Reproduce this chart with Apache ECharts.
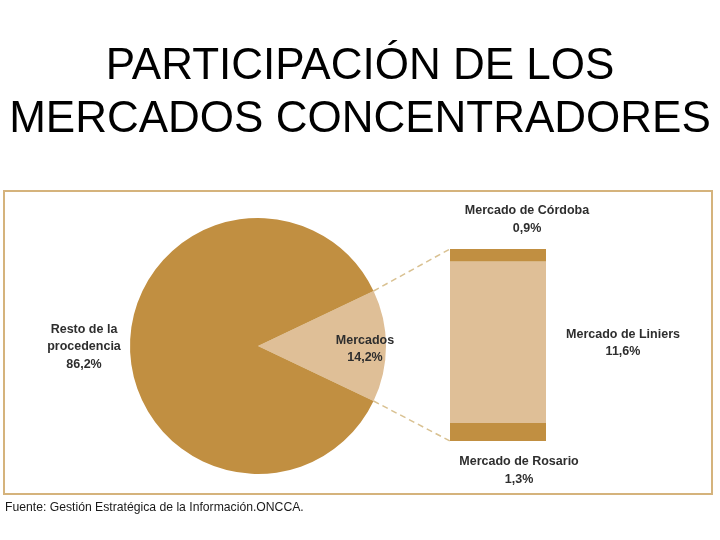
<!DOCTYPE html>
<html>
<head>
<meta charset="utf-8">
<script src="https://cdn.jsdelivr.net/npm/echarts@6/dist/echarts.min.js"></script>
<style>
  html, body { margin: 0; padding: 0; background: #fff; }
  #main { width: 720px; height: 540px; }
</style>
</head>
<body>
<div id="main"></div>
<script>
// datos
const pieNames = ['Mercados', 'Resto de la\nprocedencia'];
const pieValues = [14.2, 86.2];
const barNames = ['Mercado de Rosario', 'Mercado de Liniers', 'Mercado de Córdoba'];
const barValues = [1.3, 11.6, 0.9];

const dark = '#c18f41';
const light = '#dfbf97';
const labelColor = '#2e2e2e';

// layout
const cx = 258, cy = 346, r = 128;
const barLeft = 450, barTop = 249, barW = 96, barH = 192;

const pieTotal = pieValues.reduce((a, b) => a + b, 0);
const halfAngle = pieValues[0] / pieTotal * 180; // mitad del sector "Mercados"
const rad = halfAngle * Math.PI / 180;

function pct(v) {
  return v.toFixed(1).replace('.', ',') + '%';
}

const chart = echarts.init(document.getElementById('main'));

const labelFont = {
  color: labelColor,
  fontFamily: 'Liberation Sans, Arial, sans-serif',
  fontWeight: 'bold',
  fontSize: 12.5,
  lineHeight: 17.5,
  align: 'center'
};

const barSeries = barNames.map((name, i) => {
  let label;
  if (i === 0) {
    label = Object.assign({ show: true, position: 'bottom', distance: 12, offset: [21, 0] }, labelFont);
  } else if (i === 1) {
    label = Object.assign({ show: true, position: 'inside', offset: [125, 1] }, labelFont);
  } else {
    label = Object.assign({ show: true, position: 'top', distance: 12, offset: [29, 0] }, labelFont);
  }
  return {
    name: name,
    type: 'bar',
    stack: 'm',
    barWidth: '100%',
    data: [barValues[i]],
    itemStyle: { color: i === 1 ? light : dark },
    label: Object.assign(label, {
      formatter: function (p) { return p.seriesName + '\n' + pct(p.value); }
    }),
    silent: true
  };
});

const option = {
  animation: false,
  title: [
    {
      text: 'PARTICIPACIÓN DE LOS\nMERCADOS CONCENTRADORES',
      left: 'center',
      top: 35,
      textStyle: {
        fontFamily: 'Liberation Sans, Arial, sans-serif',
        fontWeight: 'normal',
        fontSize: 44,
        lineHeight: 53,
        color: '#000'
      }
    },
    {
      text: 'Fuente: Gestión Estratégica de la Información.ONCCA.',
      left: 5,
      top: 502,
      padding: 0,
      textStyle: {
        fontFamily: 'Liberation Sans, Arial, sans-serif',
        fontWeight: 'normal',
        fontSize: 12.2,
        color: '#1a1a1a'
      }
    }
  ],
  grid: { left: barLeft, top: barTop, width: barW, height: barH },
  xAxis: { type: 'category', data: ['m'], show: false },
  yAxis: { type: 'value', min: 0, max: barValues.reduce((a, b) => a + b, 0), show: false },
  graphic: [
    {
      type: 'rect',
      shape: { x: 4, y: 191, width: 708, height: 303 },
      style: { fill: 'none', stroke: '#d5b37c', lineWidth: 2 }
    },
    {
      type: 'line',
      shape: { x1: cx + r * Math.cos(rad), y1: cy - r * Math.sin(rad), x2: barLeft, y2: barTop },
      style: { stroke: '#d9c191', lineWidth: 1.5, lineDash: [6, 4] }
    },
    {
      type: 'line',
      shape: { x1: cx + r * Math.cos(rad), y1: cy + r * Math.sin(rad), x2: barLeft, y2: barTop + barH },
      style: { stroke: '#d9c191', lineWidth: 1.5, lineDash: [6, 4] }
    }
  ],
  series: [
    {
      type: 'pie',
      center: [cx, cy],
      radius: r,
      startAngle: halfAngle,
      clockwise: true,
      silent: true,
      data: pieNames.map((n, i) => ({
        name: n,
        value: pieValues[i],
        itemStyle: { color: i === 0 ? light : dark },
        label: i === 0 ? { offset: [40, 3] } : { offset: [-107, 1] }
      })),
      label: Object.assign({
        show: true,
        position: 'inside',
        formatter: function (p) { return p.name + '\n' + pct(p.value); }
      }, labelFont),
      labelLine: { show: false }
    }
  ].concat(barSeries)
};

chart.setOption(option);
</script>
</body>
</html>
